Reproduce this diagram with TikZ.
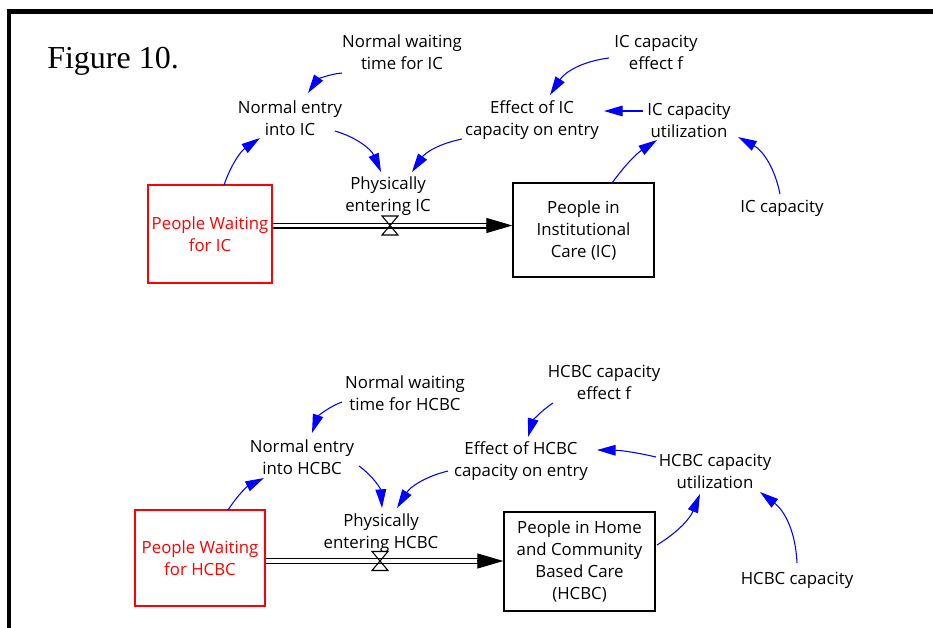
\documentclass[tikz,border=0pt]{standalone}
\usepackage{fontspec}
\usetikzlibrary{arrows.meta,calc}
\newfontfamily\varfont{Open Sans}
\newfontfamily\figfont{Liberation Serif}
\definecolor{linkblue}{RGB}{0,0,255}
\definecolor{stockred}{RGB}{255,0,0}
\begin{document}
\begin{tikzpicture}[x=0.75pt,y=0.75pt,
  var/.style={align=center,font=\varfont\fontsize{12.6}{16.5}\selectfont,inner sep=1pt},
  stock/.style={draw=black,line width=1pt,align=center,font=\varfont\fontsize{12.6}{16.5}\selectfont,inner sep=0pt},
  waitstock/.style={stock,draw=stockred,text=stockred},
  link/.style={draw=linkblue,line width=0.8pt,-{Triangle[length=14pt,width=8pt]}},
  pipeline/.style={draw=black,line width=1.1pt,double=white,double distance=2.3pt,shorten >=18.5pt},
  pipetip/.style={draw=black,line width=0.8pt,-{Triangle[length=19.5pt,width=11.25pt]}},
  valveshape/.style={draw=black,line width=0.8pt,line join=miter}
]
\useasboundingbox (0,0) rectangle (933,-628);
% frame
\draw[line width=3.3pt,line join=miter] (9,-628) -- (9,-11.3) -- (933,-11.3);
\node[anchor=base west,font=\figfont\fontsize{24}{28}\selectfont,inner sep=0pt] (fig) at (47,-68) {Figure 10.};

% ---------- institutional care ----------
\node[waitstock,minimum width=93pt,minimum height=73.5pt] (pw1) at (210,-234) {People Waiting\\for IC};
\node[stock,minimum width=105.75pt,minimum height=70.5pt] (st1) at (583.5,-230) {People in\\Institutional\\Care (IC)};
\node[var] (nw1) at (402,-52) {Normal waiting\\time for IC};
\node[var] (ne1) at (290,-118) {Normal entry\\into IC};
\node[var] (cf1) at (656,-52) {IC capacity\\effect f};
\node[var] (ef1) at (532,-120) {Effect of IC\\capacity on entry};
\node[var] (cu1) at (689,-120) {IC capacity\\utilization};
\node[var] (cap1) at (782,-208) {IC capacity};
\node[var] (pe1) at (388,-196) {Physically\\entering IC};
\coordinate (v1) at (390,-225.5);

\draw[pipeline] (pw1.east |- v1) -- (st1.west |- v1);
\draw[pipetip] ($(st1.west |- v1)+(-26,0)$) -- (st1.west |- v1);
\draw[valveshape] ($(v1)+(-8,9.5)$) -- ++(16,0) -- ++(-16,-19) -- ++(16,0) -- cycle;

\draw[link] ($(pw1)+(14,49)$) to[bend left=18] ($(ne1)+(-30,-20)$);
\draw[link] ($(nw1)+(-60,-21)$) to[bend right=25] ($(ne1)+(18,25)$);
\draw[link] ($(ne1)+(45,-13)$) to[bend left=25] ($(pe1)+(-7,24)$);
\draw[link] ($(ef1)+(-70,-19)$) to[bend right=22] ($(pe1)+(24,24)$);
\draw[link] ($(cf1)+(-47,-6)$) to[bend right=25] ($(ef1)+(18,25)$);
\draw[link] ($(cu1)+(-46,9)$) -- ($(ef1)+(72,9)$);
\draw[link] ($(st1)+(28.5,47)$) to[bend left=10] ($(cu1)+(-32,-20)$);
\draw[link] ($(cap1)+(-2,14)$) to[bend right=25] ($(cu1)+(49,-17)$);

% ---------- home and community based care ----------
\node[waitstock,minimum width=97.5pt,minimum height=72pt] (pw2) at (200,-558) {People Waiting\\for HCBC};
\node[stock,minimum width=113.25pt,minimum height=74.25pt] (st2) at (579.5,-561.5) {People in Home\\and Community\\Based Care\\(HCBC)};
\node[var] (nw2) at (405,-393) {Normal waiting\\time for HCBC};
\node[var] (ne2) at (302,-457) {Normal entry\\into HCBC};
\node[var] (cf2) at (604,-382) {HCBC capacity\\effect f};
\node[var] (ef2) at (521,-461) {Effect of HCBC\\capacity on entry};
\node[var] (cu2) at (715,-471) {HCBC capacity\\utilization};
\node[var] (cap2) at (797,-580) {HCBC capacity};
\node[var] (pe2) at (381,-533) {Physically\\entering HCBC};
\coordinate (v2) at (380,-561);

\draw[pipeline] (pw2.east |- v2) -- (st2.west |- v2);
\draw[pipetip] ($(st2.west |- v2)+(-26,0)$) -- (st2.west |- v2);
\draw[valveshape] ($(v2)+(-8,9.5)$) -- ++(16,0) -- ++(-16,-19) -- ++(16,0) -- cycle;

\draw[link] ($(pw2)+(28,48)$) to[bend left=15] ($(ne2)+(-38,-21)$);
\draw[link] ($(nw2)+(-63,-9)$) to[bend right=25] ($(ne2)+(10,24)$);
\draw[link] ($(ne2)+(57,-9)$) to[bend left=25] ($(pe2)+(1,25)$);
\draw[link] ($(ef2)+(-73,-10)$) to[bend right=22] ($(pe2)+(16,25)$);
\draw[link] ($(cf2)+(-51,-21)$) to[bend right=20] ($(ef2)+(7,24)$);
\draw[link] ($(cu2)+(-59,14)$) to[bend right=6] ($(ef2)+(76,11)$);
\draw[link] ($(st2)+(77.5,16.5)$) to[bend right=18] ($(cu2)+(-15,-23)$);
\draw[link] ($(cap2)+(0,17)$) to[bend right=25] ($(cu2)+(45,-21)$);
\end{tikzpicture}
\end{document}
